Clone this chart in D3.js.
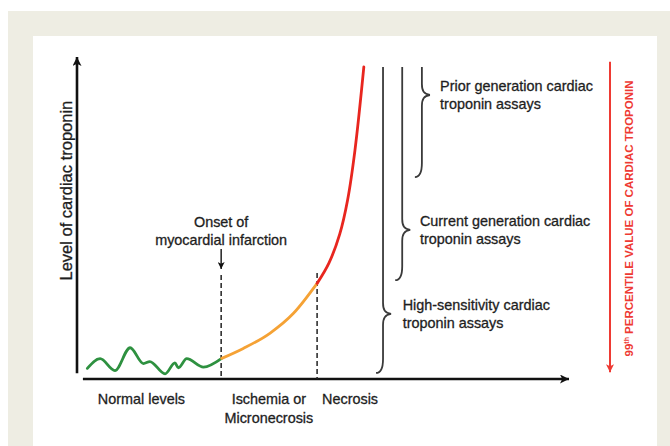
<!DOCTYPE html>
<html>
<head>
<meta charset="utf-8">
<script src="https://cdn.jsdelivr.net/npm/d3@7"></script>
<style>
  html, body { margin: 0; padding: 0; background: #ffffff; }
  svg { display: block; }
  text { font-family: "Liberation Sans", Arial, Helvetica, sans-serif; fill: #1e1e1e; stroke: #1e1e1e; stroke-width: 0.3px; }
</style>
</head>
<body>
<svg id="chart" width="670" height="446"></svg>
<script>
// ---------------- data (arbitrary units: time 0-100, troponin level 0-100) ----------------
const normalTime  = [2.1, 4.7, 7.7, 10.8, 13.5, 14.8, 17.9, 19.9, 20.6, 22.3, 25.7, 29.4];
const normalLevel = [3.3, 6.3, 2.6, 9.7, 4.8, 5.4, 1.6, 5.0, 3.5, 6.3, 3.7, 6.4];

const ischemiaTime  = [29.4, 33.8, 39.2, 44.0, 48.8];
const ischemiaLevel = [6.4, 9.5, 14.2, 20.4, 29.7];

const necrosisTime  = [48.8, 51.2, 53.4, 55.0, 56.5, 58.3];
const necrosisLevel = [29.7, 36.0, 45.0, 55.6, 71.1, 96.9];

const onsetTime = 29.3;
const necrosisStart = 48.8;

const phaseLabels = [["Normal levels"], ["Ischemia or", "Micronecrosis"], ["Necrosis"]];
const phaseCenters = [13.1, 39.0, 55.5];

const assayNames   = [["High-sensitivity cardiac", "troponin assays"],
                      ["Current generation cardiac", "troponin assays"],
                      ["Prior generation cardiac", "troponin assays"]];
const assayTime    = [62.2, 66.1, 70.1];
const assayTop     = [96.9, 96.9, 96.9];
const assayTip     = [20.2, 46.3, 88.2];
const assayBottom  = [1.9, 30.7, 62.7];
const assayLabelTime = [66.2, 69.7, 73.8];

const yTitle = "Level of cardiac troponin";
const onsetLines = ["Onset of", "myocardial infarction"];
const percentileMain = "PERCENTILE VALUE OF CARDIAC TROPONIN";

// ---------------- drawing ----------------
const svg = d3.select("#chart");

svg.append("rect").attr("x", 8).attr("y", 11).attr("width", 662).attr("height", 435).attr("fill", "#eeede3");
svg.append("rect").attr("x", 33).attr("y", 36).attr("width", 624).attr("height", 410).attr("fill", "#ffffff");

const x = d3.scaleLinear().domain([0, 100]).range([77, 569]);
const y = d3.scaleLinear().domain([0, 100]).range([379, 57]);

const defs = svg.append("defs");
function marker(id, color, w, h) {
  defs.append("marker").attr("id", id)
    .attr("viewBox", "0 0 10 10").attr("refX", 10).attr("refY", 5)
    .attr("markerUnits", "userSpaceOnUse")
    .attr("markerWidth", w).attr("markerHeight", h).attr("orient", "auto")
    .append("path").attr("d", "M0,0 L10,5 L0,10 L2.5,5 Z").attr("fill", color);
}
marker("arrBlack", "#111", 11, 9);
marker("arrSmall", "#111", 8, 7);
marker("arrRed", "#ee3a33", 9, 8);

// axes
svg.append("line").attr("x1", x(0)).attr("x2", x(0)).attr("y1", y(1.8)).attr("y2", y(100))
  .attr("stroke", "#111").attr("stroke-width", 2.6).attr("marker-end", "url(#arrBlack)");
svg.append("line").attr("x1", x(1.2)).attr("x2", x(100)).attr("y1", y(0)).attr("y2", y(0))
  .attr("stroke", "#111").attr("stroke-width", 2.6).attr("marker-end", "url(#arrBlack)");

// y title
svg.append("text").attr("transform", `translate(72,${(y(88.5) + y(28.5)) / 2}) rotate(-90)`)
  .attr("text-anchor", "middle").attr("font-size", 16.5).text(yTitle);

// dashed phase lines
[onsetTime, necrosisStart].forEach((t, i) => {
  svg.append("line").attr("x1", x(t)).attr("x2", x(t))
    .attr("y1", i === 0 ? 275 : 273).attr("y2", y(0))
    .attr("stroke", "#222").attr("stroke-width", 1.5).attr("stroke-dasharray", "5,3");
});

// onset arrow and text
svg.append("line").attr("x1", x(onsetTime)).attr("x2", x(onsetTime)).attr("y1", 249).attr("y2", 269)
  .attr("stroke", "#111").attr("stroke-width", 1.4).attr("marker-end", "url(#arrSmall)");
onsetLines.forEach((s, i) => {
  svg.append("text").attr("x", x(onsetTime)).attr("y", 227 + i * 18)
    .attr("text-anchor", "middle").attr("font-size", 14.4).text(s);
});

// curves
function curve(ts, ls, color, c) {
  const pts = ts.map((t, i) => [t, ls[i]]);
  svg.append("path").datum(pts)
    .attr("d", d3.line().x(d => x(d[0])).y(d => y(d[1])).curve(c))
    .attr("fill", "none").attr("stroke", color).attr("stroke-width", 2.8)
    .attr("stroke-linecap", "round").attr("stroke-linejoin", "round");
}
curve(normalTime, normalLevel, "#2e9140", d3.curveMonotoneX);
curve(ischemiaTime, ischemiaLevel, "#f5a235", d3.curveMonotoneX);
curve(necrosisTime, necrosisLevel, "#e8261f", d3.curveCatmullRom.alpha(0.5));

// phase labels
phaseLabels.forEach((lines, i) => {
  lines.forEach((s, j) => {
    svg.append("text").attr("x", x(phaseCenters[i])).attr("y", 404 + j * 19)
      .attr("text-anchor", "middle").attr("font-size", 14.4).text(s);
  });
});

// assay braces
assayTime.forEach((t, i) => {
  const x0 = x(t), yT = y(assayTop[i]), yM = y(assayTip[i]), yB = y(assayBottom[i]);
  const p = d3.path();
  p.moveTo(x0, yT);
  p.lineTo(x0, yM - 11);
  p.bezierCurveTo(x0, yM - 4, x0 + 2, yM - 1, x0 + 8, yM);
  p.bezierCurveTo(x0 + 2, yM + 1, x0, yM + 4, x0, yM + 11);
  p.lineTo(x0, yB - 14);
  p.bezierCurveTo(x0, yB - 5, x0 - 2, yB, x0 - 7, yB);
  svg.append("path").attr("d", p.toString()).attr("fill", "none")
    .attr("stroke", "#3a3a3a").attr("stroke-width", 1.8);
  assayNames[i].forEach((s, j) => {
    svg.append("text").attr("x", x(assayLabelTime[i])).attr("y", yM - 4 + j * 18)
      .attr("font-size", 14.4).text(s);
  });
});

// 99th percentile arrow and label
svg.append("line").attr("x1", 610).attr("x2", 610).attr("y1", y(98.5)).attr("y2", y(2.1))
  .attr("stroke", "#ee3a33").attr("stroke-width", 2).attr("marker-end", "url(#arrRed)");
const red = svg.append("text").attr("transform", `translate(633,${(y(92.5) + y(7.2)) / 2}) rotate(-90)`)
  .attr("text-anchor", "middle").attr("font-size", 11.5).attr("font-weight", "bold")
  .style("fill", "#ee3a33").style("stroke", "none");
red.append("tspan").text("99");
red.append("tspan").attr("font-size", 7).attr("dy", -4).text("th");
red.append("tspan").attr("dy", 4).text(" " + percentileMain);
</script>
</body>
</html>
